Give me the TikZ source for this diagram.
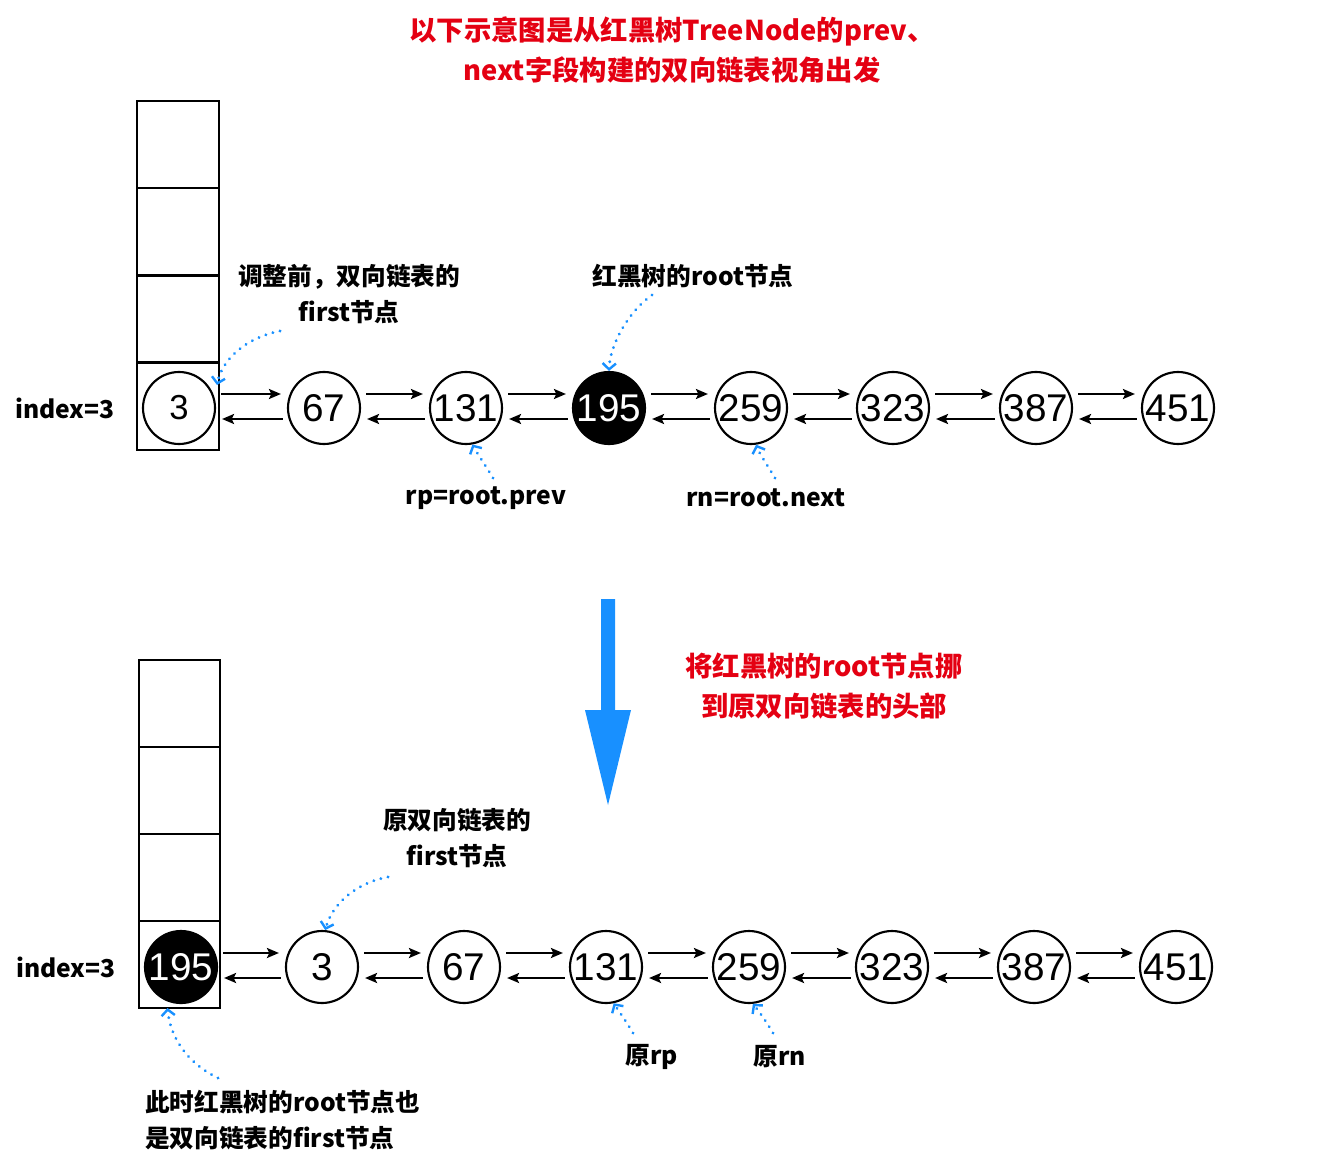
\documentclass[tikz,border=0pt]{standalone}
\usepackage{fontspec}
\setmainfont{Noto Sans CJK SC}
\newfontfamily\numf{Liberation Sans}
\usetikzlibrary{arrows.meta,calc}
\definecolor{tred}{RGB}{228,0,18}
\definecolor{tblue}{RGB}{24,144,255}
\begin{document}
\begin{tikzpicture}[x=0.75pt,y=-0.75pt,
  cellbox/.style={draw,line width=1.8pt,minimum width=61.5pt,minimum height=65.25pt,inner sep=0pt,outer sep=0pt},
  cellboxb/.style={cellbox,minimum width=60.75pt},
  circ/.style={circle,draw,line width=1.6pt,minimum size=54pt,inner sep=0pt,font=\numf\fontsize{29pt}{30pt}\selectfont},
  blk/.style={circ,fill=black,text=white},
  lnk/.style={line width=1.8pt,-{Stealth[length=9pt,width=7.5pt,inset=1.8pt]}},
  dotarrow/.style={tblue,line width=2.4pt,dash pattern=on 0.01pt off 5.5pt,line cap=round,-{Straight Barb[length=4.5pt,width=10pt,line width=1.8pt]}},
  lab/.style={font=\bfseries\fontsize{18.5pt}{27pt}\selectfont,align=center,inner sep=0pt},
  tit/.style={font=\bfseries\fontsize{20.5pt}{29.5pt}\selectfont,text=tred,align=center,inner sep=0pt}]
\useasboundingbox (0,0) rectangle (1328,1166);

% title
\node[tit] (title) at (672,50) {以下示意图是从红黑树TreeNode的prev、\\next字段构建的双向链表视角出发};

% ---------- top ----------
\node[cellbox] (tc1) at (178,144.5) {};
\node[cellbox] (tc2) at (178,231.75) {};
\node[cellbox] (tc3) at (178,319) {};
\node[cellbox] (tc4) at (178,406.25) {};
\node[lab,anchor=west] (tidx) at (15,408) {index=3};

\node[circ,font=\numf\fontsize{26pt}{27pt}\selectfont] (n3) at (179,408) {3};
\node[circ] (n67) at (324,408) {67};
\node[circ] (n131) at (466,408) {131};
\node[blk] (n195) at (609,408) {195};
\node[circ] (n259) at (751,408) {259};
\node[circ] (n323) at (893,408) {323};
\node[circ] (n387) at (1036,408) {387};
\node[circ] (n451) at (1178,408) {451};

\foreach \a/\b in {n3/n67,n67/n131,n131/n195,n195/n259,n259/n323,n323/n387,n387/n451}{
  \draw[lnk] ($(\a.east)+(5,-14)$) -- ($(\b.west)+(-6,-14)$);
  \draw[lnk] ($(\b.west)+(-4,11)$) -- ($(\a.east)+(6,11)$);
}

\node[lab] (l1) at (349,294) {调整前，双向链表的\\first节点};
\node[lab] (l2) at (693,276) {红黑树的root节点};
\node[lab] (lrp) at (486,498) {rp=root.prev};
\node[lab] (lrn) at (766,498) {rn=root.next};

\coordinate (s1) at (280,331);
\coordinate (s2) at (652,295);
\coordinate (s3) at (493,478);
\coordinate (s4) at (775,478);
\draw[dotarrow] (s1) .. controls (245,338) and (222,360) .. ($(n3)+(38,-23)$);
\draw[dotarrow] (s2) .. controls (628,312) and (610,345) .. (n195.north);
\draw[dotarrow] (s3) .. controls (486,466) and (478,455) .. (n131.-80);
\draw[dotarrow] (s4) .. controls (768,466) and (760,455) .. (n259.-82);

% ---------- middle ----------
\fill[tblue] (601,599) -- (615,599) -- (615,710) -- (631,710) -- (608,805) -- (585,710) -- (601,710) -- cycle;
\node[tit] (mid) at (824,686) {将红黑树的root节点挪\\到原双向链表的头部};

% ---------- bottom ----------
\node[cellboxb] (bc1) at (179.5,703.5) {};
\node[cellboxb] (bc2) at (179.5,790.5) {};
\node[cellboxb] (bc3) at (179.5,877.5) {};
\node[cellboxb] (bc4) at (179.5,964.5) {};
\node[lab,anchor=west] (bidx) at (16,967) {index=3};

\node[blk] (b195) at (181,967) {195};
\node[circ] (b3) at (322,967) {3};
\node[circ] (b67) at (464,967) {67};
\node[circ] (b131) at (606,967) {131};
\node[circ] (b259) at (749,967) {259};
\node[circ] (b323) at (892,967) {323};
\node[circ] (b387) at (1034,967) {387};
\node[circ] (b451) at (1176,967) {451};

\foreach \a/\b in {b195/b3,b3/b67,b67/b131,b131/b259,b259/b323,b323/b387,b387/b451}{
  \draw[lnk] ($(\a.east)+(5,-14)$) -- ($(\b.west)+(-6,-14)$);
  \draw[lnk] ($(\b.west)+(-4,11)$) -- ($(\a.east)+(6,11)$);
}

\node[lab] (l3) at (457,838) {原双向链表的\\first节点};
\node[lab] (l4) at (652,1057) {原rp};
\node[lab] (l5) at (780,1057) {原rn};
\node[lab,align=left,anchor=west] (l6) at (145,1120) {此时红黑树的root节点也\\是双向链表的first节点};

\coordinate (s5) at (388,877);
\coordinate (s6) at (633,1033);
\coordinate (s7) at (773,1033);
\coordinate (s8) at (218,1078);
\draw[dotarrow] (s5) .. controls (355,883) and (332,905) .. (b3.85);
\draw[dotarrow] (s6) .. controls (626,1021) and (618,1010) .. (b131.-78);
\draw[dotarrow] (s7) .. controls (766,1021) and (758,1010) .. (b259.-84);
\draw[dotarrow] (s8) .. controls (185,1062) and (170,1035) .. ($(bc4.south)+(-12,0)$);
\end{tikzpicture}
\end{document}
